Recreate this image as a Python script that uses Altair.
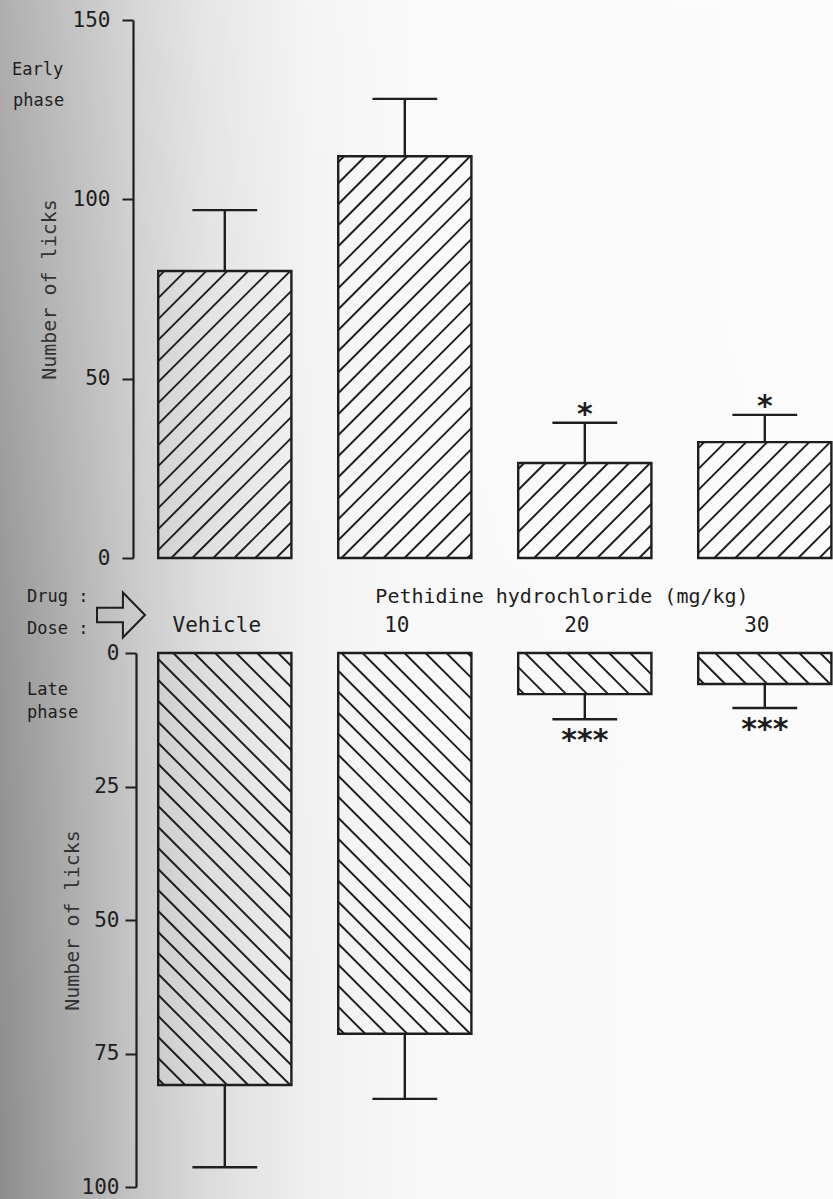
import altair as alt
import numpy as np
import pandas as pd

# Formalin test: licking counts after pethidine hydrochloride
doses = ["Vehicle", "10", "20", "30"]

early_mean = [80.0, 112.0, 26.5, 32.3]
early_sem = [17.0, 16.0, 11.2, 7.6]
early_sig = ["", "", "*", "*"]

late_mean = [80.9, 71.3, 7.7, 5.8]
late_sem = [15.4, 12.2, 4.7, 4.5]
late_sig = ["", "", "***", "***"]

# layout
PLOT_W = 700
PLOT_H = 1179
LEFT = 133
TOP = 20
SLOT_PX = 180
X_MAX = PLOT_W / SLOT_PX
BAR_START = 0.14
BAR_W = 0.74
CAP_HALF = 0.18
EARLY_DOMAIN = [0, 150]
EARLY_RANGE = [538, 0]
LATE_DOMAIN = [0, 100]
LATE_RANGE = [633, 1167]
HATCH_STEP = 21
INK = "#1e1e1e"
MONO = "DejaVu Sans Mono"

x_scale = alt.Scale(domain=[0, X_MAX], nice=False, zero=False)


def panel_frame(means, sems, sig):
    df = pd.DataFrame({"dose": doses, "mean": means, "sem": sems, "sig": sig})
    df["x0"] = np.arange(len(df)) + BAR_START
    df["x1"] = df["x0"] + BAR_W
    df["xc"] = df["x0"] + BAR_W / 2
    df["cap0"] = df["xc"] - CAP_HALF
    df["cap1"] = df["xc"] + CAP_HALF
    df["upper"] = df["mean"] + df["sem"]
    df["base"] = 0.0
    return df


def hatch_frame(df, px_per_unit):
    # 45-degree hatch strokes clipped to each bar
    rows = []
    for _, r in df.iterrows():
        X0, X1 = r["x0"] * SLOT_PX, r["x1"] * SLOT_PX
        V = r["mean"] * px_per_unit
        c = X0 - V + 6
        while c < X1:
            xs, xe = max(X0, c), min(X1, c + V)
            if xe - xs > 1.5:
                rows.append({
                    "hx": xs / SLOT_PX, "hx2": xe / SLOT_PX,
                    "hy": (xs - c) / px_per_unit, "hy2": (xe - c) / px_per_unit,
                })
            c += HATCH_STEP
    return pd.DataFrame(rows)


def panel(df, domain, rng, axis, star_dy):
    ys = alt.Scale(domain=domain, range=rng, nice=False, zero=True)
    ppu = abs(rng[1] - rng[0]) / (domain[1] - domain[0])
    hatch = alt.Chart(hatch_frame(df, ppu)).mark_rule(
        color=INK, strokeWidth=1.9
    ).encode(
        x=alt.X("hx:Q", scale=x_scale, axis=None), x2="hx2:Q",
        y=alt.Y("hy:Q", scale=ys, axis=axis), y2="hy2:Q",
    )
    base = alt.Chart(df)
    bars = base.mark_rect(fillOpacity=0, stroke=INK, strokeWidth=2.4).encode(
        x=alt.X("x0:Q", scale=x_scale, axis=None), x2="x1:Q",
        y=alt.Y("mean:Q", scale=ys, axis=axis), y2="base:Q",
    )
    stem = base.mark_rule(color=INK, strokeWidth=2.4).encode(
        x=alt.X("xc:Q", scale=x_scale, axis=None),
        y=alt.Y("mean:Q", scale=ys, axis=axis), y2="upper:Q",
    )
    cap = base.mark_rule(color=INK, strokeWidth=2.4).encode(
        x=alt.X("cap0:Q", scale=x_scale, axis=None), x2="cap1:Q",
        y=alt.Y("upper:Q", scale=ys, axis=axis),
    )
    stars = base.mark_text(
        font="DejaVu Sans", fontWeight="bold", fontSize=30,
        baseline="alphabetic", dy=star_dy, color=INK,
    ).encode(
        x=alt.X("xc:Q", scale=x_scale, axis=None),
        y=alt.Y("upper:Q", scale=ys, axis=axis),
        text="sig:N",
    )
    return alt.layer(hatch, bars, stem, cap, stars)


axis_common = dict(
    title="Number of licks", orient="left", grid=False, zindex=2,
    domainColor=INK, domainWidth=2.2, tickColor=INK, tickWidth=2, tickSize=11,
    labelFont=MONO, labelFontSize=21, labelColor=INK,
    titleFont=MONO, titleFontSize=20, titleFontWeight="normal", titleColor="#333333",
    titleAngle=-90, titleBaseline="middle",
)
early_axis = alt.Axis(values=[0, 50, 100, 150], labelPadding=12, titleX=-84, **axis_common)
late_axis = alt.Axis(values=[0, 25, 50, 75, 100], labelPadding=6, titleX=-64, offset=-3, **axis_common)

early = panel(panel_frame(early_mean, early_sem, early_sig), EARLY_DOMAIN, EARLY_RANGE, early_axis, 1)
late = panel(panel_frame(late_mean, late_sem, late_sig), LATE_DOMAIN, LATE_RANGE, late_axis, 31)

one = pd.DataFrame({"k": [0]})

# shaded left edge of the page
paper = alt.Chart(one).mark_rect(
    fill=alt.Gradient(
        gradient="linear", x1=0, x2=1, y1=0, y2=0,
        stops=[
            alt.GradientStop(offset=0.0, color="#8c8c8c"),
            alt.GradientStop(offset=0.16, color="#c4c4c4"),
            alt.GradientStop(offset=0.25, color="#dcdcdc"),
            alt.GradientStop(offset=0.37, color="#f0f0f0"),
            alt.GradientStop(offset=0.5, color="#f8f8f8"),
            alt.GradientStop(offset=1.0, color="#fbfbfb"),
        ],
    )
).encode(
    x=alt.value(-LEFT), x2=alt.value(PLOT_W),
    y=alt.value(-TOP), y2=alt.value(PLOT_H),
)

# lighter towards the top of the page
paper_top = alt.Chart(one).mark_rect(
    fill=alt.Gradient(
        gradient="linear", x1=0, x2=0, y1=0, y2=1,
        stops=[
            alt.GradientStop(offset=0.0, color="rgba(255,255,255,0.3)"),
            alt.GradientStop(offset=0.55, color="rgba(255,255,255,0.08)"),
            alt.GradientStop(offset=1.0, color="rgba(255,255,255,0)"),
        ],
    )
).encode(
    x=alt.value(-LEFT), x2=alt.value(PLOT_W),
    y=alt.value(-TOP), y2=alt.value(PLOT_H),
)


def note(text, x, y, size, align="left", baseline="alphabetic"):
    return alt.Chart(one).mark_text(
        text=text, font=MONO, fontSize=size, align=align, baseline=baseline, color=INK,
    ).encode(x=alt.value(x), y=alt.value(y))


notes = [
    note("Early", -121, 55, 17),
    note("phase", -120, 86, 17),
    note("Late", -106, 675, 17),
    note("phase", -106, 698, 17),
    note("Drug :", -106, 577, 17, baseline="middle"),
    note("Dose :", -106, 609, 17, baseline="middle"),
    note("Pethidine hydrochloride  (mg/kg)", 429, 577, 20, align="center", baseline="middle"),
]

arrow = alt.Chart(one).mark_point(
    shape="M -1 -0.3 L 0.08 -0.3 L 0.08 -0.94 L 1 0 L 0.08 0.94 L 0.08 0.3 L -1 0.3 Z",
    filled=False, stroke=INK, strokeWidth=2, size=2304, opacity=1,
).encode(x=alt.value(-12), y=alt.value(595))

dose_labels = alt.Chart(panel_frame(early_mean, early_sem, early_sig)).mark_text(
    font=MONO, fontSize=21, dx=-8, baseline="middle", color=INK,
).encode(
    x=alt.X("xc:Q", scale=x_scale, axis=None),
    y=alt.value(606),
    text="dose:N",
)

chart = alt.layer(
    paper, paper_top, early, late, dose_labels, arrow, *notes
).resolve_scale(
    y="independent"
).properties(
    width=PLOT_W, height=PLOT_H, padding=0, background="#fbfbfb",
).configure_view(stroke=None)

chart.save("out.html", embed_options={"renderer": "svg", "actions": False})
